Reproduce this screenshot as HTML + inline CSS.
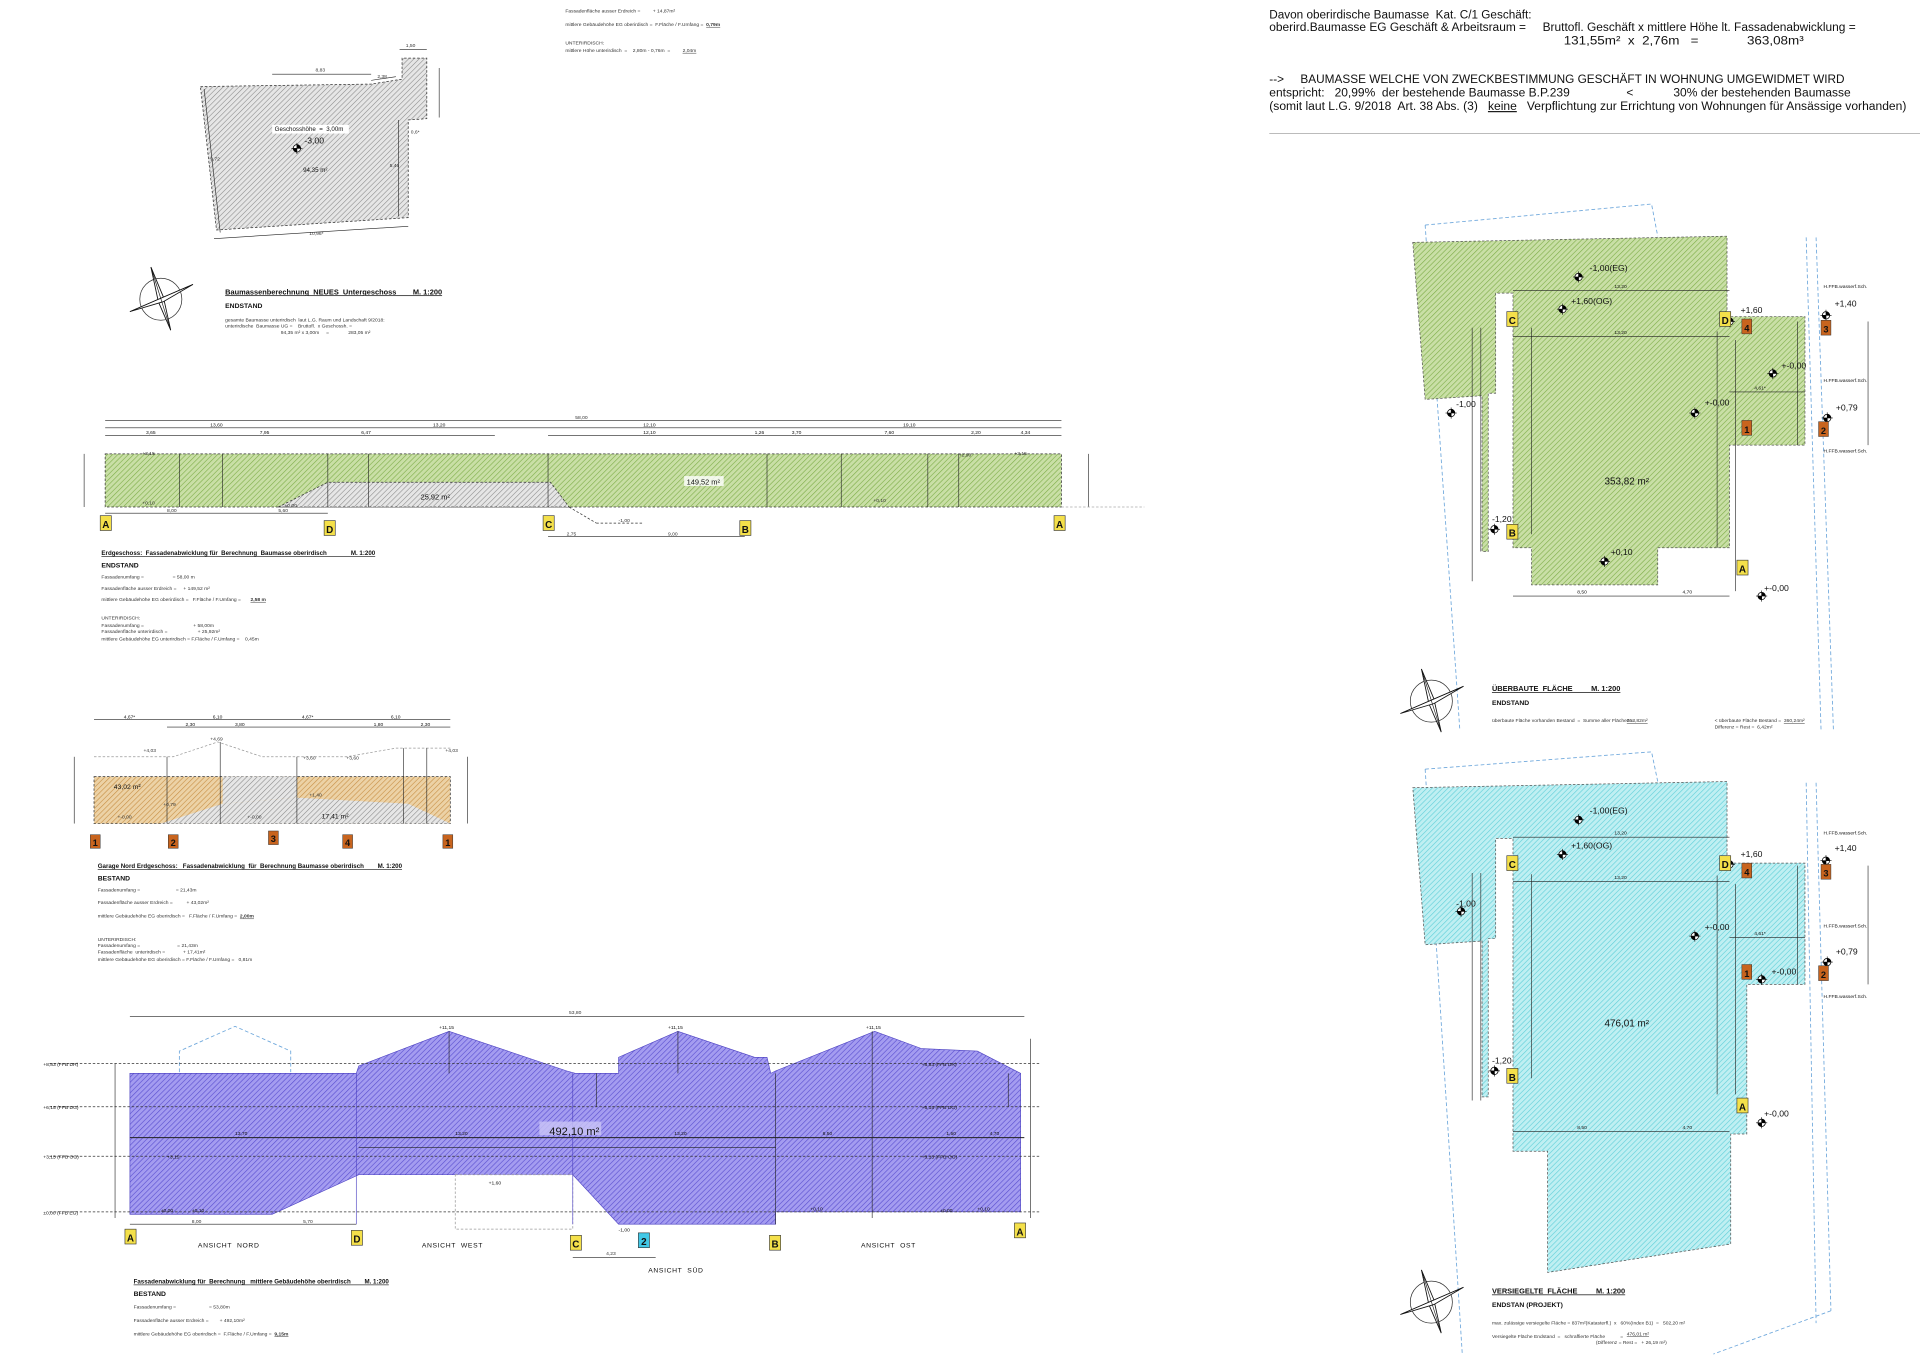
<!DOCTYPE html>
<html><head><meta charset="utf-8"><style>
html,body{margin:0;padding:0;background:#fff;width:1920px;height:1359px;overflow:hidden}
svg{display:block}
text{font-family:"Liberation Sans",sans-serif;fill:#111;white-space:pre}
.s{font-size:4px;fill:#333}
.h{font-size:9.4px;font-family:"Liberation Sans",sans-serif}
.t{font-size:6px;font-weight:bold;text-decoration:underline}
.b{font-size:5.5px;font-weight:bold}
.e{font-size:7px}
.dim{stroke:#222;stroke-width:0.5;fill:none}
.dash{stroke:#333;stroke-width:0.6;stroke-dasharray:2 1.5}
.bl{stroke:#6fa8dc;stroke-width:0.7;stroke-dasharray:3 2;fill:none}
.tg{font-size:8px;font-weight:bold;text-anchor:middle}
</style></head><body>
<svg width="1920" height="1359" viewBox="0 0 1552 1099" preserveAspectRatio="none" xmlns="http://www.w3.org/2000/svg">
<defs>
<pattern id="pg" width="3" height="3" patternUnits="userSpaceOnUse" patternTransform="rotate(45)"><rect width="3" height="3" fill="#c9dfa6"/><line x1="0" y1="0" x2="0" y2="3" stroke="#7fae4a" stroke-width="1"/></pattern>
<pattern id="pp" width="3" height="3" patternUnits="userSpaceOnUse" patternTransform="rotate(45)"><rect width="3" height="3" fill="#a49cf0"/><line x1="0" y1="0" x2="0" y2="3" stroke="#5a4fd0" stroke-width="1"/></pattern>
<pattern id="pc" width="3" height="3" patternUnits="userSpaceOnUse" patternTransform="rotate(45)"><rect width="3" height="3" fill="#bfeff2"/><line x1="0" y1="0" x2="0" y2="3" stroke="#5fcfd8" stroke-width="1"/></pattern>
<pattern id="pa" width="3" height="3" patternUnits="userSpaceOnUse" patternTransform="rotate(45)"><rect width="3" height="3" fill="#e6e6e6"/><line x1="0" y1="0" x2="0" y2="3" stroke="#888" stroke-width="0.9"/></pattern>
<pattern id="po" width="3" height="3" patternUnits="userSpaceOnUse" patternTransform="rotate(45)"><rect width="3" height="3" fill="#ecd2a6"/><line x1="0" y1="0" x2="0" y2="3" stroke="#c89046" stroke-width="1"/></pattern>
<g id="mk"><circle r="3" fill="#fff" stroke="#000" stroke-width="0.6"/><path d="M0 0V-3A3 3 0 0 1 3 0ZM0 0V3A3 3 0 0 1 -3 0Z" fill="#000"/><line x1="-4.5" y1="0" x2="4.5" y2="0" stroke="#000" stroke-width="0.5"/><line x1="0" y1="-4.5" x2="0" y2="4.5" stroke="#000" stroke-width="0.5"/></g>
<g id="cp"><circle r="17" fill="none" stroke="#333" stroke-width="0.6"/><path d="M-8 -26L2 -2L8 25L-2 2Z" fill="#fff" stroke="#111" stroke-width="0.7"/><path d="M-25 10L-2 0L26 -12L2 2Z" fill="#fff" stroke="#111" stroke-width="0.7"/><line x1="-8" y1="-26" x2="8" y2="25" stroke="#111" stroke-width="0.5"/><line x1="-25" y1="10" x2="26" y2="-12" stroke="#111" stroke-width="0.5"/></g>
</defs>

<!-- ===== UG plan ===== -->
<polygon points="162,70 300,68 325,64 325,47 345,47 345,96 330,97 330,176 175,186" style="fill:url(#pa)" class="dash"/>
<line class="dim" x1="220" y1="60" x2="300" y2="60"/><text class="s" x="255" y="58">8,83</text>
<line class="dim" x1="300" y1="65" x2="320" y2="62"/><text class="s" x="305" y="63">2,38</text>
<line class="dim" x1="323" y1="40" x2="345" y2="40"/><text class="s" x="328" y="38">1,50</text>
<line class="dim" x1="355" y1="55" x2="355" y2="95"/>
<line class="dim" x1="165" y1="72" x2="178" y2="188"/><text class="s" x="170" y="130">9,72</text>
<line class="dim" x1="173" y1="193" x2="330" y2="183"/><text class="s" x="250" y="190">10,96*</text>
<line class="dim" x1="322" y1="97" x2="322" y2="175"/><text class="s" x="315" y="135">5,46</text>
<text class="s" x="332" y="108">0,6*</text>
<rect x="220" y="101" width="62" height="7" fill="#fff"/>
<text x="222" y="106" style="font-size:5px">Geschosshöhe  =  3,00m</text>
<text x="246" y="116" style="font-size:7px">-3,00</text>
<use href="#mk" x="240" y="120"/>
<text x="245" y="139" style="font-size:5px">94,35 m²</text>
<use href="#cp" x="130" y="242"/>
<text class="t" x="182" y="238">Baumassenberechnung  NEUES  Untergeschoss        M. 1:200</text>
<text class="b" x="182" y="249">ENDSTAND</text>
<text class="s" x="182" y="260">gesamte Baumasse unterirdisch  laut L.G. Raum und Landschaft 9/2018:</text>
<text class="s" x="182" y="265">unterirdische  Baumasse UG =    Bruttofl.  x Geschossh. =</text>
<text class="s" x="227" y="270">94,35 m² x 3,00m     =              283,05 m²</text>

<text class="s" x="457" y="10">Fassadenfläche ausser Erdreich =         + 14,87m²</text>
<text class="s" x="457" y="21">mittlere Gebäudehöhe EG oberirdisch =  F.Fläche / F.Umfang =  <tspan font-weight="bold" text-decoration="underline">0,79m</tspan></text>
<text class="s" x="457" y="36" fill="#666">UNTERIRDISCH:</text>
<text class="s" x="457" y="42">mittlere Höhe unterirdisch  =    2,80m - 0,76m  =         <tspan text-decoration="underline">2,04m</tspan></text>

<!-- ===== EG band ===== -->
<line class="dim" x1="85" y1="340" x2="858" y2="340"/><text class="s" x="465" y="339">58,00</text>
<line class="dim" x1="85" y1="346" x2="858" y2="346"/>
<line class="dim" x1="85" y1="352" x2="400" y2="352"/><line class="dim" x1="443" y1="352" x2="858" y2="352"/>
<g class="s"><text x="170" y="345">13,60</text><text x="350" y="345">13,20</text><text x="520" y="345">12,10</text><text x="730" y="345">19,10</text>
<text x="118" y="351">3,65</text><text x="210" y="351">7,95</text><text x="292" y="351">6,47</text><text x="520" y="351">12,10</text><text x="610" y="351">1,26</text><text x="640" y="351">3,70</text><text x="715" y="351">7,60</text><text x="785" y="351">2,20</text><text x="825" y="351">4,34</text></g>
<rect x="85" y="367" width="773" height="43" style="fill:url(#pg)" class="dash"/>
<polygon points="225,410 265,390 445,390 460,410" style="fill:url(#pa)" class="dash"/>
<g class="dim"><line x1="145" y1="367" x2="145" y2="410"/><line x1="180" y1="367" x2="180" y2="410"/><line x1="265" y1="367" x2="265" y2="410"/><line x1="298" y1="367" x2="298" y2="410"/><line x1="443" y1="367" x2="443" y2="410"/><line x1="620" y1="367" x2="620" y2="410"/><line x1="680" y1="367" x2="680" y2="410"/><line x1="750" y1="367" x2="750" y2="410"/><line x1="775" y1="367" x2="775" y2="410"/><line x1="68" y1="367" x2="68" y2="410"/><line x1="880" y1="367" x2="880" y2="410"/></g>
<line class="dash" x1="460" y1="410" x2="482" y2="423"/><line class="dash" x1="482" y1="423" x2="520" y2="423"/>
<line class="dash" x1="858" y1="410" x2="925" y2="410" style="stroke:#aaa"/>
<text class="s" x="115" y="368">+3,15</text><text class="s" x="115" y="408">+0,10</text><text class="s" x="230" y="410">±0,00</text>
<text class="s" x="500" y="422">-1,00</text><text class="s" x="706" y="406">+0,10</text><text class="s" x="775" y="369">+2,90</text><text class="s" x="820" y="368">+3,15</text>
<rect x="553" y="385" width="32" height="8" fill="#fff" opacity="0.8"/>
<text x="555" y="392" style="font-size:6px">149,52 m²</text>
<text x="340" y="404" style="font-size:6px">25,92 m²</text>
<line class="dim" x1="85" y1="415" x2="265" y2="415"/><text class="s" x="135" y="414">8,00</text><text class="s" x="225" y="414">5,60</text>
<line class="dim" x1="443" y1="434" x2="602" y2="434"/><text class="s" x="458" y="433">2,75</text><text class="s" x="540" y="433">9,00</text>
<g><rect x="81" y="417" width="9" height="12" fill="#f4e04a" stroke="#333" stroke-width="0.5"/><text class="tg" x="85.5" y="427">A</text>
<rect x="262" y="421" width="9" height="12" fill="#f4e04a" stroke="#333" stroke-width="0.5"/><text class="tg" x="266.5" y="431">D</text>
<rect x="439" y="417" width="9" height="12" fill="#f4e04a" stroke="#333" stroke-width="0.5"/><text class="tg" x="443.5" y="427">C</text>
<rect x="598" y="421" width="9" height="12" fill="#f4e04a" stroke="#333" stroke-width="0.5"/><text class="tg" x="602.5" y="431">B</text>
<rect x="852" y="417" width="9" height="12" fill="#f4e04a" stroke="#333" stroke-width="0.5"/><text class="tg" x="856.5" y="427">A</text></g>
<text class="t" x="82" y="449" style="font-size:5px">Erdgeschoss:  Fassadenabwicklung für  Berechnung  Baumasse oberirdisch              M. 1:200</text>
<text class="b" x="82" y="459">ENDSTAND</text>
<text class="s" x="82" y="468">Fassadenumfang =                     = 58,00 m</text>
<text class="s" x="82" y="477">Fassadenfläche ausser Erdreich =     + 149,52 m²</text>
<text class="s" x="82" y="486">mittlere Gebäudehöhe EG oberirdisch =   F.Fläche / F.Umfang =       <tspan font-weight="bold" text-decoration="underline">2,58 m</tspan></text>
<text class="s" x="82" y="501" fill="#666">UNTERIRDISCH:</text>
<text class="s" x="82" y="507">Fassadenumfang =                                    + 58,00m</text>
<text class="s" x="82" y="512">Fassadenfläche unterirdisch =                      + 25,92m²</text>
<text class="s" x="82" y="518">mittlere Gebäudehöhe EG unterirdisch = F.Fläche / F.Umfang =    0,45m</text>

<!-- ===== Garage band ===== -->
<line class="dim" x1="76" y1="582" x2="364" y2="582"/><line class="dim" x1="135" y1="588" x2="364" y2="588"/>
<g class="s"><text x="100" y="581">4,67*</text><text x="172" y="581">6,10</text><text x="244" y="581">4,67*</text><text x="316" y="581">6,10</text><text x="150" y="587">2,30</text><text x="190" y="587">3,80</text><text x="302" y="587">1,80</text><text x="340" y="587">2,30</text></g>
<polyline class="dash" style="stroke:#999;fill:none" points="76,612 140,612 176,600 212,612 240,612 280,612 320,605 364,605"/>
<rect x="76" y="628" width="288" height="38" style="fill:url(#po)" class="dash"/>
<polygon points="130,666 180,650 240,645 330,650 364,666" fill="url(#pa)"/>
<polygon points="180,628 240,628 240,645 180,650" fill="url(#pa)"/>
<g class="dim"><line x1="135" y1="612" x2="135" y2="666"/><line x1="178" y1="600" x2="178" y2="666"/><line x1="240" y1="612" x2="240" y2="666"/><line x1="326" y1="605" x2="326" y2="666"/><line x1="345" y1="605" x2="345" y2="666"/><line x1="60" y1="612" x2="60" y2="666"/><line x1="378" y1="612" x2="378" y2="666"/></g>
<text class="s" x="116" y="608">+4,03</text><text class="s" x="170" y="599">+4,69</text><text class="s" x="245" y="614">+3,60</text><text class="s" x="280" y="614">+3,60</text><text class="s" x="360" y="608">+4,03</text>
<text class="s" x="250" y="644">+1,40</text><text class="s" x="132" y="652">+0,79</text><text class="s" x="95" y="662">+-0,00</text><text class="s" x="200" y="662">+-0,00</text>
<text x="92" y="638" style="font-size:5.5px">43,02 m²</text><text x="260" y="662" style="font-size:5.5px">17,41 m²</text>
<g fill="#c8641e" stroke="#333" stroke-width="0.4">
<rect x="73" y="675" width="8" height="11"/><rect x="136" y="675" width="8" height="11"/><rect x="217" y="672" width="8" height="11"/><rect x="277" y="675" width="8" height="11"/><rect x="358" y="675" width="8" height="11"/></g>
<g class="tg" style="font-size:7.5px"><text x="77" y="684">1</text><text x="140" y="684">2</text><text x="221" y="681">3</text><text x="281" y="684">4</text><text x="362" y="684">1</text></g>
<text class="t" x="79" y="702" style="font-size:5px">Garage Nord Erdgeschoss:   Fassadenabwicklung  für  Berechnung Baumasse oberirdisch        M. 1:200</text>
<text class="b" x="79" y="712">BESTAND</text>
<text class="s" x="79" y="721">Fassadenumfang =                          = 21,43m</text>
<text class="s" x="79" y="731">Fassadenfläche ausser Erdreich =          + 43,02m²</text>
<text class="s" x="79" y="742">mittlere Gebäudehöhe EG oberirdisch =   F.Fläche / F.Umfang =  <tspan font-weight="bold" text-decoration="underline">2,00m</tspan></text>
<text class="s" x="79" y="761" fill="#666">UNTERIRDISCH:</text>
<text class="s" x="79" y="766">Fassadenumfang =                           = 21,43m</text>
<text class="s" x="79" y="771">Fassadenfläche  unterirdisch =             + 17,41m²</text>
<text class="s" x="79" y="777">mittlere Gebäudehöhe EG oberirdisch = F.Fläche / F.Umfang =   0,81m</text>

<!-- ===== Purple band ===== -->
<line class="dim" x1="105" y1="822" x2="828" y2="822"/><text class="s" x="460" y="820">53,80</text>
<polyline class="bl" points="145,867 145,850 190,830 235,850 235,867"/>
<polygon points="105,868 288,868 290,862 363,834 458,866 465,868 500,868 500,855 548,834 610,855 620,855 623,868 627,866 707,834 745,848 790,850 825,868 825,980 627,980 627,990 500,990 463,950 290,950 220,982 105,982" fill="url(#pp)" stroke="#4a3fc0" stroke-width="0.5"/>
<rect x="368" y="950" width="95" height="44" fill="#fff" class="dash" style="stroke:#999"/>
<g class="dash" style="stroke:#333"><line x1="40" y1="860" x2="840" y2="860"/><line x1="40" y1="895" x2="840" y2="895"/><line x1="40" y1="935" x2="840" y2="935"/><line x1="40" y1="980" x2="840" y2="980"/></g>
<line class="dim" x1="105" y1="920" x2="828" y2="920" style="stroke-width:0.8"/>
<line class="dim" x1="290" y1="928" x2="627" y2="928"/>
<g class="dim"><line x1="288" y1="868" x2="288" y2="990" style="stroke:#4a3fc0"/><line x1="463" y1="868" x2="463" y2="990" style="stroke:#4a3fc0"/><line x1="627" y1="868" x2="627" y2="990"/><line x1="705" y1="834" x2="705" y2="985"/><line x1="363" y1="834" x2="363" y2="868"/><line x1="548" y1="834" x2="548" y2="868"/><line x1="93" y1="860" x2="93" y2="985"/><line x1="833" y1="840" x2="833" y2="985"/><line x1="482" y1="868" x2="482" y2="895"/><line x1="815" y1="868" x2="815" y2="895"/></g>
<g class="s"><text x="35" y="862">+8,83 (FFB DR)</text><text x="35" y="897">+6,15 (FFB DG)</text><text x="35" y="937">+3,15 (FFB OG)</text><text x="35" y="982">±0,00 (FFB EG)</text>
<text x="355" y="832">+11,15</text><text x="540" y="832">+11,15</text><text x="700" y="832">+11,15</text>
<text x="745" y="862">+8,83 (FFB DR)</text><text x="745" y="897">+6,15 (FFB DG)</text><text x="745" y="937">+3,15 (FFB OG)</text>
<text x="135" y="937">+3,15</text><text x="130" y="980">±0,00</text><text x="155" y="980">+0,10</text><text x="395" y="958">+1,60</text><text x="500" y="996">-1,00</text><text x="655" y="979">+0,10</text><text x="760" y="980">±0,00</text><text x="790" y="979">+0,10</text>
<text x="190" y="918">13,70</text><text x="368" y="918">13,20</text><text x="545" y="918">13,20</text><text x="665" y="918">8,50</text><text x="765" y="918">1,50</text><text x="800" y="918">4,70</text></g>
<rect x="436" y="907" width="50" height="11" fill="#c9c4f6" opacity="0.8"/>
<text x="444" y="918" style="font-size:9px">492,10 m²</text>
<line class="dim" x1="105" y1="990" x2="288" y2="990"/><text class="s" x="155" y="989">8,00</text><text class="s" x="245" y="989">5,70</text>
<line class="dim" x1="463" y1="1017" x2="530" y2="1017"/><text class="s" x="490" y="1015">4,23</text>
<g><rect x="101" y="994" width="9" height="12" fill="#f4e04a" stroke="#333" stroke-width="0.5"/><text class="tg" x="105.5" y="1004">A</text>
<rect x="284" y="995" width="9" height="12" fill="#f4e04a" stroke="#333" stroke-width="0.5"/><text class="tg" x="288.5" y="1005">D</text>
<rect x="461" y="999" width="9" height="12" fill="#f4e04a" stroke="#333" stroke-width="0.5"/><text class="tg" x="465.5" y="1009">C</text>
<rect x="516" y="997" width="9" height="12" fill="#42c8e6" stroke="#333" stroke-width="0.5"/><text class="tg" x="520.5" y="1007">2</text>
<rect x="622" y="999" width="9" height="12" fill="#f4e04a" stroke="#333" stroke-width="0.5"/><text class="tg" x="626.5" y="1009">B</text>
<rect x="820" y="989" width="9" height="12" fill="#f4e04a" stroke="#333" stroke-width="0.5"/><text class="tg" x="824.5" y="999">A</text></g>
<g style="font-size:5.5px;letter-spacing:0.5px"><text x="160" y="1009">ANSICHT  NORD</text><text x="341" y="1009">ANSICHT  WEST</text><text x="524" y="1029">ANSICHT  SÜD</text><text x="696" y="1009">ANSICHT  OST</text></g>
<text class="t" x="108" y="1038" style="font-size:5px">Fassadenabwicklung für  Berechnung   mittlere Gebäudehöhe oberirdisch        M. 1:200</text>
<text class="b" x="108" y="1048">BESTAND</text>
<text class="s" x="108" y="1058">Fassadenumfang =                        = 53,80m</text>
<text class="s" x="108" y="1069">Fassadenfläche ausser Erdreich =        + 492,10m²</text>
<text class="s" x="108" y="1080">mittlere Gebäudehöhe EG oberirdisch =  F.Fläche / F.Umfang =  <tspan font-weight="bold" text-decoration="underline">9,15m</tspan></text>
<text x="2" y="1104" style="font-size:4.5px;fill:#888">Plan Format  DIN A 1  hoch</text>

<!-- ===== Right header ===== -->
<g class="h">
<text x="1026" y="15" textLength="212" lengthAdjust="spacingAndGlyphs">Davon oberirdische Baumasse  Kat. C/1 Geschäft:</text>
<text x="1026" y="25" textLength="474" lengthAdjust="spacingAndGlyphs">oberird.Baumasse EG Geschäft &amp; Arbeitsraum =     Bruttofl. Geschäft x mittlere Höhe lt. Fassadenabwicklung =</text>
<text x="1264" y="36" textLength="194" lengthAdjust="spacingAndGlyphs">131,55m²  x  2,76m   =             363,08m³</text>
<text x="1026" y="67" textLength="465" lengthAdjust="spacingAndGlyphs">--&gt;     BAUMASSE WELCHE VON ZWECKBESTIMMUNG GESCHÄFT IN WOHNUNG UMGEWIDMET WIRD</text>
<text x="1026" y="78" textLength="470" lengthAdjust="spacingAndGlyphs">entspricht:   20,99%  der bestehende Baumasse B.P.239                 &lt;            30% der bestehenden Baumasse</text>
<text x="1026" y="89" textLength="515" lengthAdjust="spacingAndGlyphs">(somit laut L.G. 9/2018  Art. 38 Abs. (3)   <tspan text-decoration="underline">keine</tspan>   Verpflichtung zur Errichtung von Wohnungen für Ansässige vorhanden)</text>
</g>
<line x1="1026" y1="108" x2="1552" y2="108" stroke="#bbb" stroke-width="0.8"/>

<!-- ===== Green plan ===== -->
<polyline class="bl" points="1152,182 1335,165 1340,191"/>
<line class="bl" x1="1152" y1="182" x2="1180" y2="590"/>
<line class="bl" x1="1468" y1="192" x2="1482" y2="590"/>
<line class="bl" x1="1460" y1="192" x2="1472" y2="590"/>
<polygon points="1142,196 1396,191 1396,256 1459,256 1459,360 1398,360 1398,443 1340,443 1340,473 1238,473 1238,443 1223,443 1223,237 1209,237 1209,318 1203,318 1203,446 1198,446 1198,320 1152,323" style="fill:url(#pg);stroke:#555" class="dash"/>
<g class="dim"><line x1="1223" y1="235" x2="1398" y2="235"/><line x1="1223" y1="272" x2="1398" y2="272"/><line x1="1238" y1="265" x2="1238" y2="432"/><line x1="1388" y1="268" x2="1388" y2="443"/><line x1="1403" y1="275" x2="1403" y2="478"/><line x1="1190" y1="265" x2="1190" y2="470"/><line x1="1197" y1="265" x2="1197" y2="446"/><line x1="1223" y1="482" x2="1398" y2="482"/><line x1="1398" y1="317" x2="1459" y2="317"/><line x1="1453" y1="260" x2="1453" y2="360"/><line x1="1510" y1="260" x2="1510" y2="360"/></g>
<g class="s"><text x="1305" y="233">13,20</text><text x="1305" y="270">13,20</text><text x="1275" y="480">8,50</text><text x="1360" y="480">4,70</text><text x="1418" y="315">4,61*</text></g>
<g class="e"><text x="1285" y="219">-1,00(EG)</text><text x="1270" y="246">+1,60(OG)</text><text x="1407" y="253">+1,60</text><text x="1483" y="248">+1,40</text><text x="1440" y="298">+-0,00</text><text x="1378" y="328">+-0,00</text><text x="1484" y="332">+0,79</text><text x="1177" y="329">-1,00</text><text x="1206" y="422">-1,20</text><text x="1302" y="449">+0,10</text><text x="1426" y="478">+-0,00</text></g>
<g><use href="#mk" x="1276" y="224"/><use href="#mk" x="1263" y="250"/><use href="#mk" x="1398" y="260"/><use href="#mk" x="1476" y="255"/><use href="#mk" x="1433" y="302"/><use href="#mk" x="1370" y="334"/><use href="#mk" x="1477" y="338"/><use href="#mk" x="1173" y="334"/><use href="#mk" x="1208" y="428"/><use href="#mk" x="1297" y="454"/><use href="#mk" x="1424" y="482"/></g>
<text x="1297" y="392" style="font-size:8px">353,82 m²</text>
<g class="s"><text x="1474" y="233">H.FFB.wasserf.Sch.</text><text x="1474" y="309">H.FFB.wasserf.Sch.</text><text x="1474" y="366">H.FFB.wasserf.Sch.</text></g>
<g><rect x="1218" y="252" width="9" height="12" fill="#f4e04a" stroke="#333" stroke-width="0.5"/><text class="tg" x="1222.5" y="262">C</text>
<rect x="1390" y="252" width="9" height="12" fill="#f4e04a" stroke="#333" stroke-width="0.5"/><text class="tg" x="1394.5" y="262">D</text>
<rect x="1218" y="424" width="9" height="12" fill="#f4e04a" stroke="#333" stroke-width="0.5"/><text class="tg" x="1222.5" y="434">B</text>
<rect x="1404" y="453" width="9" height="12" fill="#f4e04a" stroke="#333" stroke-width="0.5"/><text class="tg" x="1408.5" y="463">A</text></g>
<g fill="#c8641e" stroke="#333" stroke-width="0.4"><rect x="1408" y="258" width="8" height="12"/><rect x="1472" y="259" width="8" height="12"/><rect x="1408" y="340" width="8" height="12"/><rect x="1470" y="341" width="8" height="12"/></g>
<g class="tg" style="font-size:7.5px"><text x="1412" y="268">4</text><text x="1476" y="269">3</text><text x="1412" y="350">1</text><text x="1474" y="351">2</text></g>
<use href="#cp" x="1157" y="567"/>
<text class="t" x="1206" y="559">ÜBERBAUTE  FLÄCHE         M. 1:200</text>
<text class="b" x="1206" y="570">ENDSTAND</text>
<text class="s" x="1206" y="584">überbaute Fläche vorhanden Bestand  =  Summe aller Flächen =</text>
<text class="s" x="1315" y="584" fill="#5a9e1e" text-decoration="underline">353,82m²</text>
<text class="s" x="1386" y="584">&lt; überbaute Fläche Bestand =  <tspan text-decoration="underline">360,24m²</tspan></text>
<text class="s" x="1386" y="589">Differenz = Rest =  6,42m²</text>

<!-- ===== Cyan plan ===== -->
<polyline class="bl" points="1152,622 1335,608 1340,632"/>
<line class="bl" x1="1152" y1="622" x2="1182" y2="1095"/>
<line class="bl" x1="1468" y1="633" x2="1480" y2="1060"/>
<line class="bl" x1="1460" y1="633" x2="1468" y2="1070"/>
<line class="bl" x1="1480" y1="1060" x2="1385" y2="1095"/>
<polygon points="1142,637 1396,632 1396,698 1459,698 1459,796 1412,796 1412,917 1399,917 1399,1006 1251,1029 1251,931 1223,931 1223,678 1209,678 1209,759 1203,759 1203,887 1198,887 1198,761 1152,764" style="fill:url(#pc);stroke:#555" class="dash"/>
<g class="dim"><line x1="1223" y1="677" x2="1398" y2="677"/><line x1="1223" y1="713" x2="1398" y2="713"/><line x1="1238" y1="707" x2="1238" y2="872"/><line x1="1388" y1="708" x2="1388" y2="885"/><line x1="1403" y1="715" x2="1403" y2="885"/><line x1="1190" y1="706" x2="1190" y2="890"/><line x1="1197" y1="706" x2="1197" y2="890"/><line x1="1223" y1="915" x2="1398" y2="915"/><line x1="1398" y1="758" x2="1459" y2="758"/><line x1="1453" y1="700" x2="1453" y2="796"/><line x1="1510" y1="700" x2="1510" y2="796"/></g>
<g class="s"><text x="1305" y="675">13,20</text><text x="1305" y="711">13,20</text><text x="1275" y="913">8,50</text><text x="1360" y="913">4,70</text><text x="1418" y="756">4,61*</text></g>
<g class="e"><text x="1285" y="658">-1,00(EG)</text><text x="1270" y="686">+1,60(OG)</text><text x="1407" y="693">+1,60</text><text x="1483" y="688">+1,40</text><text x="1378" y="752">+-0,00</text><text x="1484" y="772">+0,79</text><text x="1432" y="788">+-0,00</text><text x="1177" y="733">-1,00</text><text x="1206" y="860">-1,20</text><text x="1426" y="903">+-0,00</text></g>
<g><use href="#mk" x="1276" y="663"/><use href="#mk" x="1263" y="691"/><use href="#mk" x="1398" y="699"/><use href="#mk" x="1476" y="696"/><use href="#mk" x="1370" y="757"/><use href="#mk" x="1477" y="778"/><use href="#mk" x="1424" y="792"/><use href="#mk" x="1181" y="737"/><use href="#mk" x="1208" y="866"/><use href="#mk" x="1424" y="908"/></g>
<text x="1297" y="830" style="font-size:8px">476,01 m²</text>
<g class="s"><text x="1474" y="675">H.FFB.wasserf.Sch.</text><text x="1474" y="750">H.FFB.wasserf.Sch.</text><text x="1474" y="807">H.FFB.wasserf.Sch.</text></g>
<g><rect x="1218" y="692" width="9" height="12" fill="#f4e04a" stroke="#333" stroke-width="0.5"/><text class="tg" x="1222.5" y="702">C</text>
<rect x="1390" y="692" width="9" height="12" fill="#f4e04a" stroke="#333" stroke-width="0.5"/><text class="tg" x="1394.5" y="702">D</text>
<rect x="1218" y="864" width="9" height="12" fill="#f4e04a" stroke="#333" stroke-width="0.5"/><text class="tg" x="1222.5" y="874">B</text>
<rect x="1404" y="888" width="9" height="12" fill="#f4e04a" stroke="#333" stroke-width="0.5"/><text class="tg" x="1408.5" y="898">A</text></g>
<g fill="#c8641e" stroke="#333" stroke-width="0.4"><rect x="1408" y="698" width="8" height="12"/><rect x="1472" y="699" width="8" height="12"/><rect x="1408" y="780" width="8" height="12"/><rect x="1470" y="781" width="8" height="12"/></g>
<g class="tg" style="font-size:7.5px"><text x="1412" y="708">4</text><text x="1476" y="709">3</text><text x="1412" y="790">1</text><text x="1474" y="791">2</text></g>
<use href="#cp" x="1157" y="1053"/>
<text class="t" x="1206" y="1046">VERSIEGELTE  FLÄCHE         M. 1:200</text>
<text class="b" x="1206" y="1057">ENDSTAN (PROJEKT)</text>
<text class="s" x="1206" y="1071">max. zulässige versiegelte Fläche = 837m²(Katasterfl.)  x   60%(Index B1)  =   502,20 m²</text>
<text class="s" x="1206" y="1082">Versiegelte Fläche Endstand  =   schraffierte Fläche           =</text>
<text class="s" x="1315" y="1080" fill="#2a6ed0" text-decoration="underline">476,01 m²</text>
<text class="s" x="1290" y="1087">(Differenz = Rest =   + 26,19 m²)</text>
</svg>
</body></html>
